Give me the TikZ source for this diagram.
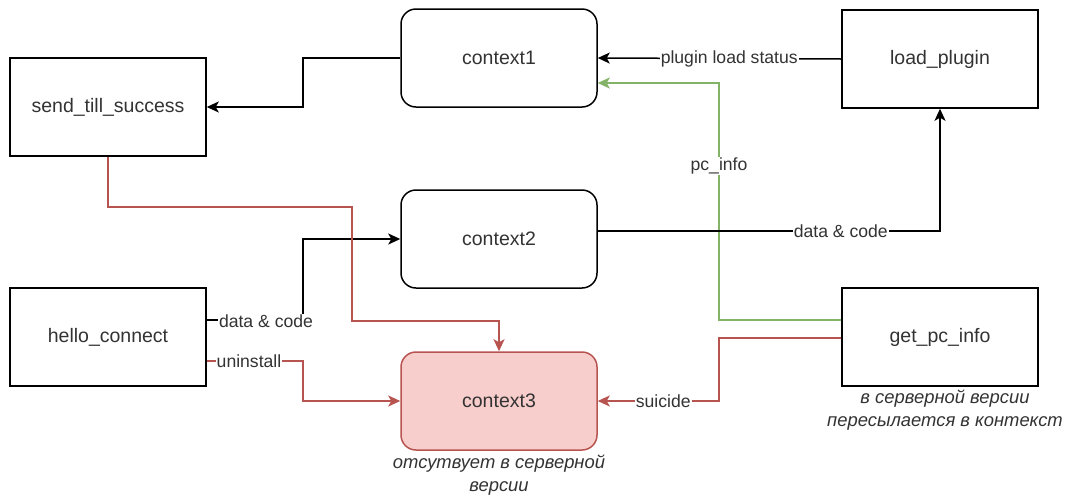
\documentclass[tikz,border=0pt]{standalone}
\usepackage{fontspec}
\setmainfont{Liberation Sans}
\usetikzlibrary{arrows.meta}
\definecolor{redS}{HTML}{B85450}
\definecolor{redF}{HTML}{F8CECC}
\definecolor{greenS}{HTML}{82B366}
\definecolor{txt}{HTML}{333333}
\tikzset{
  box/.style={draw=black, line width=1.5pt, minimum width=196pt, minimum height=98pt, inner sep=0pt, text=txt, font=\fontsize{19.5}{23}\selectfont},
  rbox/.style={box, rounded corners=15pt},
  arr/.style={line width=1.5pt, -{Stealth[length=12pt,width=11pt,inset=3pt]}},
  lbl/.style={fill=white, inner sep=1pt, text=txt, font=\fontsize{17.6}{21}\selectfont},
  note/.style={text=txt, align=center, font=\fontsize{18.4}{23}\selectfont\itshape, inner sep=0pt},
}
\begin{document}
\begin{tikzpicture}[x=1pt,y=-1pt]
\useasboundingbox[fill=white] (0,0) rectangle (1067,496);
% nodes
\node[box] (sts) at (108,107) {send\_till\_success};
\node[rbox] (ctx1) at (499,58) {context1};
\node[box] (lp) at (940,59) {load\_plugin};
\node[rbox] (ctx2) at (499,239) {context2};
\node[box] (hc) at (108,337) {hello\_connect};
\node[box] (gpi) at (940,337) {get\_pc\_info};
\node[rbox, draw=redS, fill=redF] (ctx3) at (499,401) {context3};
\node[note] (n3) at (499,475) {отсутвует в серверной\\версии};
\node[note] (ngpi) at (945,410) {в серверной версии\\пересылается в контекст};
% edges
\draw[arr] (ctx1.west) -- (303,58) -- (303,107) -- (sts.east);
\draw[arr] (lp.west) -- node[lbl, pos=0.46] (l1) {plugin load status} (ctx1.east);
\draw[arr, draw=greenS, -{Stealth[length=12pt,width=11pt,inset=3pt,fill=greenS]}] ([yshift=17pt]gpi.west) -- (719,320) -- node[lbl, pos=0.65] (l2) {pc\_info} (719,83) -- ([yshift=-25pt]ctx1.east);
\draw[arr] ([yshift=8pt]ctx2.east) -- node[lbl, pos=0.71] (l3) {data \& code} (940,231) -- (lp.south);
\draw[arr] ([yshift=17pt]hc.east) -- (303,320) -- (303,239) -- (ctx2.west);
\node[lbl] (l4) at (266,321) {data \& code};
\draw[arr, draw=redS, -{Stealth[length=12pt,width=11pt,inset=3pt,fill=redS]}] ([yshift=-24pt]hc.east) -- (303,361) -- (303,401) -- (ctx3.west);
\node[lbl] (l5) at (249,361) {uninstall};
\draw[arr, draw=redS, -{Stealth[length=12pt,width=11pt,inset=3pt,fill=redS]}] (sts.south) -- (108,207) -- (352,207) -- (352,321) -- (499,321) -- (ctx3.north);
\draw[arr, draw=redS, -{Stealth[length=12pt,width=11pt,inset=3pt,fill=redS]}] ([yshift=-1pt]gpi.west) -- (719,338) -- (719,401) -- node[lbl, pos=0.46] (l6) {suicide} (ctx3.east);
\end{tikzpicture}
\end{document}
